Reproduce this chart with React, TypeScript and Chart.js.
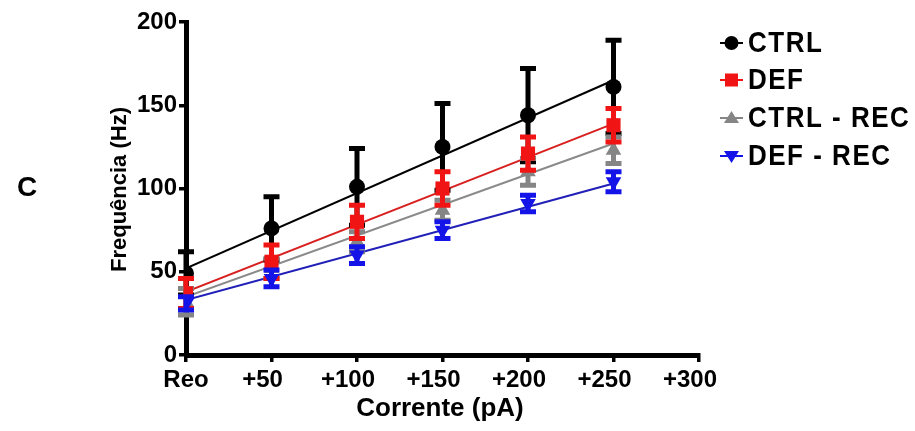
import React, { useEffect, useRef } from 'react';
import { Chart, registerables } from 'chart.js';

Chart.register(...registerables);

// ---- data ----
const currents = [0, 50, 100, 150, 200, 250];
const xTickValues = [0, 50, 100, 150, 200, 250, 300];
const xTickLabels = ['Reo', '+50', '+100', '+150', '+200', '+250', '+300'];
const yTickValues = [0, 50, 100, 150, 200];

const ctrlMean = [49, 76, 101, 125, 144, 161];
const ctrlSD = [13, 19, 23, 26, 28, 28];
const defMean = [37, 56, 80, 100, 121, 138];
const defSD = [9, 10, 10, 10, 10, 10];
const ctrlRecMean = [32, 52, 68, 87, 110, 123];
const ctrlRecSD = [8, 6, 6, 6, 8, 8];
const defRecMean = [31, 46, 60, 75, 91, 104];
const defRecSD = [4, 5, 5, 5, 5, 6];

const fitX = [0, 250];
const ctrlFit = [52, 165];
const defFit = [38, 139];
const ctrlRecFit = [35, 127];
const defRecFit = [33, 103];

const seriesNames = ['CTRL', 'DEF', 'CTRL - REC', 'DEF - REC'];
const xTitle = 'Corrente (pA)';
const yTitle = 'Frequência (Hz)';
const panelLetter = 'C';

const FONT = '"Liberation Sans", Arial, sans-serif';
const BLACK = '#000000';
const RED = '#f01414';
const GREY = '#858585';
const BLUE = '#1414e8';

const pts = (xs: number[], ys: number[]) => xs.map((x, i) => ({ x, y: ys[i] }));

const errorBarPlugin = {
  id: 'errorBars',
  beforeDatasetDraw(chart: any, args: any) {
    const ds = chart.data.datasets[args.index];
    if (!ds.errors) return;
    const { ctx, scales } = chart;
    const xs = scales.x;
    const ys = scales.y;
    ctx.save();
    ctx.strokeStyle = ds.borderColor;
    ctx.lineWidth = 5;
    ds.data.forEach((p: any, i: number) => {
      const e = ds.errors[i];
      const x = xs.getPixelForValue(p.x);
      const yt = ys.getPixelForValue(p.y + e);
      const yb = ys.getPixelForValue(p.y - e);
      ctx.beginPath();
      ctx.moveTo(x, yt);
      ctx.lineTo(x, yb);
      ctx.moveTo(x - 8, yt);
      ctx.lineTo(x + 8, yt);
      ctx.moveTo(x - 8, yb);
      ctx.lineTo(x + 8, yb);
      ctx.stroke();
    });
    ctx.restore();
  },
};

function drawMarker(ctx: CanvasRenderingContext2D, style: string, x: number, y: number, color: string) {
  ctx.fillStyle = color;
  ctx.beginPath();
  if (style === 'circle') {
    ctx.arc(x, y, 7, 0, Math.PI * 2);
  } else if (style === 'rect') {
    ctx.rect(x - 6.5, y - 6.5, 13, 13);
  } else if (style === 'tri') {
    ctx.moveTo(x, y - 7);
    ctx.lineTo(x + 7.5, y + 5);
    ctx.lineTo(x - 7.5, y + 5);
    ctx.closePath();
  } else {
    ctx.moveTo(x, y + 7);
    ctx.lineTo(x + 7.5, y - 5);
    ctx.lineTo(x - 7.5, y - 5);
    ctx.closePath();
  }
  ctx.fill();
}

const decorPlugin = {
  id: 'decor',
  afterDraw(chart: any) {
    const { ctx, chartArea, scales } = chart;
    ctx.save();
    ctx.fillStyle = '#000';
    ctx.textAlign = 'center';
    ctx.textBaseline = 'middle';
    // x tick labels (placed from the x scale)
    ctx.font = `bold 24px ${FONT}`;
    xTickValues.forEach((v, i) => {
      const px = scales.x.getPixelForValue(v) - (i === 0 ? 0 : 9);
      ctx.fillText(xTickLabels[i], px, 380);
    });
    // panel letter
    ctx.font = `bold 28px ${FONT}`;
    ctx.fillText(panelLetter, 27, 188);
    // x title
    ctx.font = `bold 26px ${FONT}`;
    ctx.fillText(xTitle, 440, 409);
    // y title
    ctx.font = `bold 22px ${FONT}`;
    ctx.save();
    ctx.translate(120, (chartArea.top + chartArea.bottom) / 2 + 1);
    ctx.rotate(-Math.PI / 2);
    ctx.fillText(yTitle, 0, 0);
    ctx.restore();
    // legend
    const colors = [BLACK, RED, GREY, BLUE];
    const styles = ['circle', 'rect', 'tri', 'itri'];
    const rowsY = [43, 80, 118, 156];
    ctx.font = `bold 26px ${FONT}`;
    ctx.textAlign = 'left';
    try { (ctx as any).letterSpacing = '1.5px'; } catch (e) {}
    seriesNames.forEach((name, i) => {
      const y = rowsY[i];
      ctx.strokeStyle = colors[i];
      ctx.lineWidth = 2;
      ctx.beginPath();
      ctx.moveTo(720, y);
      ctx.lineTo(743, y);
      ctx.stroke();
      drawMarker(ctx, styles[i], 731.5, y, colors[i]);
      ctx.fillStyle = '#000';
      ctx.save();
      ctx.translate(748, y + 1);
      ctx.scale(1, 1.1);
      ctx.fillText(name, 0, 0);
      ctx.restore();
    });
    ctx.restore();
  },
};

export default function App() {
  const ref = useRef<HTMLCanvasElement>(null);
  useEffect(() => {
    if (!ref.current) return;
    const fitStyle = (color: string, data: any, order: number) => ({
      type: 'line' as const,
      data,
      borderColor: color,
      backgroundColor: color,
      borderWidth: 2,
      pointRadius: 0,
      showLine: true,
      order,
    });
    const ptStyle = (label: string, color: string, mean: number[], sd: number[], pointStyle: string, radius: number, order: number, rotation = 0) => ({
      type: 'line' as const,
      label,
      data: pts(currents, mean),
      errors: sd,
      borderColor: color,
      backgroundColor: color,
      pointBorderColor: color,
      pointBackgroundColor: color,
      showLine: false,
      pointStyle,
      pointRadius: radius,
      pointRotation: rotation,
      pointBorderWidth: 0,
      order,
    });
    const chart = new Chart(ref.current, {
      type: 'line',
      data: {
        datasets: [
          ptStyle(seriesNames[0], BLACK, ctrlMean, ctrlSD, 'circle', 8, 4),
          ptStyle(seriesNames[1], RED, defMean, defSD, 'rect', 10, 2),
          ptStyle(seriesNames[2], GREY, ctrlRecMean, ctrlRecSD, 'triangle', 9, 3),
          ptStyle(seriesNames[3], BLUE, defRecMean, defRecSD, 'triangle', 9, 1, 180),
          fitStyle(BLACK, pts(fitX, ctrlFit), 10),
          fitStyle('#d82020', pts(fitX, defFit), 11),
          fitStyle('#8a8a8a', pts(fitX, ctrlRecFit), 12),
          fitStyle('#2020b8', pts(fitX, defRecFit), 13),
        ] as any,
      },
      options: {
        animation: false,
        responsive: false,
        maintainAspectRatio: false,
        layout: { padding: { top: 22, right: 216, left: 0, bottom: 0 } },
        plugins: { legend: { display: false }, tooltip: { enabled: false } },
        elements: { line: { tension: 0 } },
        scales: {
          x: {
            type: 'linear',
            min: 0,
            max: 300,
            afterBuildTicks: (s: any) => { s.ticks = xTickValues.map((v) => ({ value: v })); },
            afterFit: (s: any) => { s.height = 76; },
            ticks: {
              display: false,
              autoSkip: false,
            },
            grid: { display: true, drawOnChartArea: false, drawTicks: true, tickLength: 7, lineWidth: 3.5, color: '#000' },
            border: { display: true, width: 5, color: '#000' },
          },
          y: {
            type: 'linear',
            min: 0,
            max: 200,
            afterBuildTicks: (s: any) => { s.ticks = yTickValues.map((v) => ({ value: v })); },
            afterFit: (s: any) => { s.width = 186; },
            ticks: {
              color: '#000',
              font: { family: FONT, size: 24, weight: 'bold' },
              padding: 2,
              autoSkip: false,
            },
            grid: { display: true, drawOnChartArea: false, drawTicks: true, tickLength: 7, lineWidth: 3.5, color: '#000' },
            border: { display: true, width: 5, color: '#000' },
          },
        },
      } as any,
      plugins: [errorBarPlugin, decorPlugin],
    });
    return () => chart.destroy();
  }, []);
  return (
    <div style={{ position: 'fixed', left: 0, top: 0, width: 915, height: 431, background: '#fff' }}>
      <canvas ref={ref} width={915} height={431} />
    </div>
  );
}
